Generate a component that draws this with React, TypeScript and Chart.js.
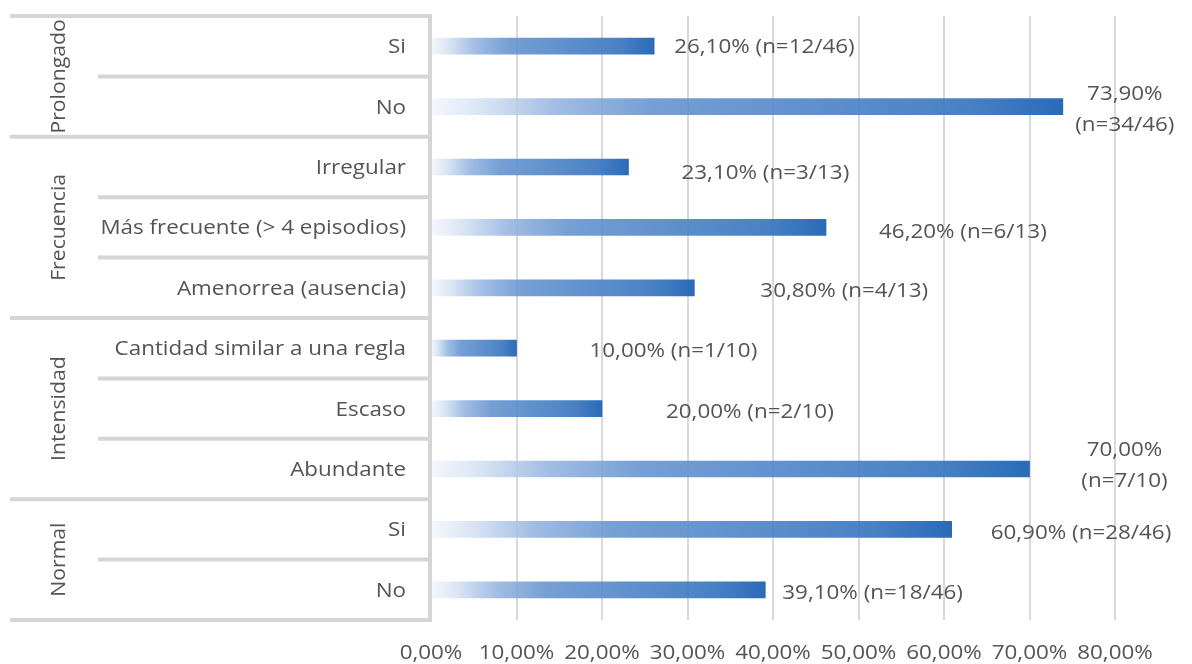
import React, { useEffect, useRef } from "react";
import { Chart, registerables } from "chart.js";

Chart.register(...registerables);

// Menstrual pattern categories, grouped by dimension
const categories = [
  "Si",
  "No",
  "Irregular",
  "Más frecuente (> 4 episodios)",
  "Amenorrea (ausencia)",
  "Cantidad similar a una regla",
  "Escaso",
  "Abundante",
  "Si",
  "No",
];
const groups = ["Prolongado", "Frecuencia", "Intensidad", "Normal"];
const groupSizes = [2, 3, 3, 2];

// Percentages and counts (n / total) per category
const percentages = [26.1, 73.9, 23.1, 46.2, 30.8, 10.0, 20.0, 70.0, 60.9, 39.1];
const counts = [12, 34, 3, 6, 4, 1, 2, 7, 28, 18];
const totals = [46, 46, 13, 13, 13, 10, 10, 10, 46, 46];

// Axis ticks (percent)
const xTicks = [0, 10, 20, 30, 40, 50, 60, 70, 80];

// Data-label placement: gap after the bar end (px), vertical nudge (px), two-line wrap
const labelGap = [20, 62, 53, 53, 66, 73, 64, 95, 39, 17];
const labelNudge = [0, 2, 5, 4, 2, 2, 2, -5, 3, 2];
const labelWrapped = [false, true, false, false, false, false, false, true, false, false];

const FONT = "20px 'Open Sans', 'Noto Sans', sans-serif";
const TEXT = "#545454";
const LINE = "#d5d5d5";
const STRETCH = 1.12;
const STRETCH_V = 1.06;

const fmtPct = (v: number) => v.toFixed(2).replace(".", ",") + "%";

function drawText(
  ctx: CanvasRenderingContext2D,
  text: string,
  x: number,
  y: number,
  align: CanvasTextAlign,
  sx: number
) {
  ctx.save();
  ctx.translate(x, y);
  ctx.scale(sx, 1);
  ctx.textAlign = align;
  ctx.textBaseline = "alphabetic";
  ctx.fillText(text, 0, 0);
  ctx.restore();
}

const tablePlugin = {
  id: "groupedTable",
  afterDraw(chart: any) {
    const { ctx, chartArea } = chart;
    const xs = chart.scales.x;
    const ys = chart.scales.y;
    const n = categories.length;
    const centers = categories.map((_, i) => ys.getPixelForValue(i));
    const half = n > 1 ? (centers[1] - centers[0]) / 2 : 30;
    const boundary = (k: number) => (k < n ? centers[k] - half : centers[n - 1] + half);

    ctx.save();
    ctx.strokeStyle = LINE;
    ctx.lineWidth = 4;
    ctx.lineCap = "butt";
    const axisX = chartArea.left - 1;

    // group separators and inner row separators
    const groupStarts = new Set<number>();
    let acc = 0;
    groupSizes.forEach((s) => {
      groupStarts.add(acc);
      acc += s;
    });
    groupStarts.add(n);
    for (let k = 0; k <= n; k++) {
      const yy = boundary(k);
      const x0 = groupStarts.has(k) ? 10 : 98;
      ctx.beginPath();
      ctx.moveTo(x0, yy);
      ctx.lineTo(axisX + 2, yy);
      ctx.stroke();
    }
    ctx.beginPath();
    ctx.moveTo(axisX, boundary(0) - 2);
    ctx.lineTo(axisX, boundary(n) + 2);
    ctx.stroke();

    ctx.fillStyle = TEXT;
    ctx.font = FONT;

    // category labels
    categories.forEach((c, i) => {
      drawText(ctx, c, chartArea.left - 25, centers[i] + 7, "right", STRETCH);
    });

    // rotated group labels
    acc = 0;
    groups.forEach((g, gi) => {
      const top = boundary(acc);
      const bottom = boundary(acc + groupSizes[gi]);
      acc += groupSizes[gi];
      ctx.save();
      ctx.translate(65, (top + bottom) / 2);
      ctx.rotate(-Math.PI / 2);
      ctx.scale(STRETCH_V, 1);
      ctx.textAlign = "center";
      ctx.textBaseline = "alphabetic";
      ctx.fillText(g, 0, 0);
      ctx.restore();
    });

    // x tick labels
    xTicks.forEach((t) => {
      drawText(ctx, fmtPct(t), xs.getPixelForValue(t), chartArea.bottom + 39, "center", STRETCH);
    });

    // data labels
    const meta = chart.getDatasetMeta(0);
    meta.data.forEach((bar: any, i: number) => {
      const end = xs.getPixelForValue(percentages[i]);
      const yc = bar.y + labelNudge[i];
      const pct = fmtPct(percentages[i]);
      const nn = `(n=${counts[i]}/${totals[i]})`;
      if (labelWrapped[i]) {
        const cx = end + labelGap[i];
        drawText(ctx, pct, cx, yc - 15.5 + 7, "center", STRETCH);
        drawText(ctx, nn, cx, yc + 15.5 + 7, "center", STRETCH);
      } else {
        drawText(ctx, `${pct} ${nn}`, end + labelGap[i], yc + 7, "left", STRETCH);
      }
    });
    ctx.restore();
  },
};

function barGradient(c: any) {
  const chart = c.chart;
  if (!chart.chartArea || c.type !== "data") return "#2c6cb8";
  const xs = chart.scales.x;
  const x0 = xs.getPixelForValue(0);
  const x1 = xs.getPixelForValue(c.raw as number);
  const g = chart.ctx.createLinearGradient(x0, 0, x1, 0);
  g.addColorStop(0, "rgba(244,247,252,0.9)");
  g.addColorStop(0.08, "rgba(213,226,243,0.9)");
  g.addColorStop(0.2, "rgba(150,181,224,0.9)");
  g.addColorStop(0.35, "rgba(106,151,209,0.92)");
  g.addColorStop(0.6, "rgba(82,135,201,0.92)");
  g.addColorStop(0.85, "rgba(62,122,193,0.95)");
  g.addColorStop(1, "rgba(42,106,183,1)");
  return g;
}

export default function App() {
  const canvasRef = useRef<HTMLCanvasElement | null>(null);

  useEffect(() => {
    const canvas = canvasRef.current;
    if (!canvas) return;
    const chart = new Chart(canvas, {
      type: "bar",
      data: {
        labels: categories,
        datasets: [
          {
            data: percentages,
            backgroundColor: barGradient,
            borderWidth: 0,
            barThickness: 16,
          },
        ],
      },
      options: {
        indexAxis: "y",
        responsive: false,
        animation: false,
        layout: { padding: { left: 431, right: 77, top: 16, bottom: 44 } },
        plugins: {
          legend: { display: false },
          tooltip: { enabled: false },
        },
        scales: {
          x: {
            min: 0,
            max: 80,
            ticks: { display: false, stepSize: 10 },
            border: { display: false },
            grid: {
              drawTicks: false,
              lineWidth: 2,
              color: (c: any) => (c.tick && c.tick.value === 0 ? "rgba(0,0,0,0)" : "#d9d9d9"),
            },
            afterFit: (s: any) => {
              s.height = 0;
            },
          },
          y: {
            ticks: { display: false },
            border: { display: false },
            grid: { display: false, drawTicks: false },
            afterFit: (s: any) => {
              s.width = 0;
            },
          },
        },
      },
      plugins: [tablePlugin],
    });
    return () => chart.destroy();
  }, []);

  return (
    <div style={{ position: "absolute", left: 0, top: 0, width: 1192, height: 664, background: "#fff" }}>
      <canvas ref={canvasRef} width={1192} height={664} />
    </div>
  );
}
